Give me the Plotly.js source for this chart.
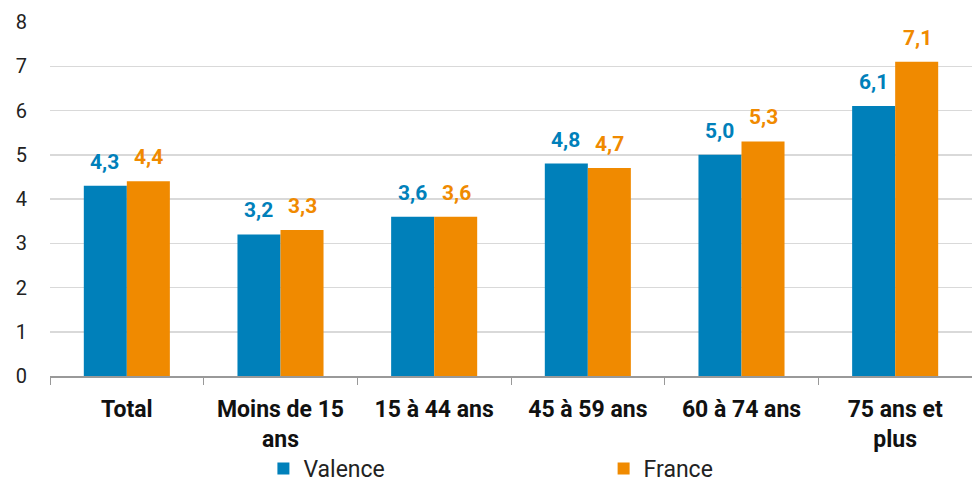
<!DOCTYPE html>
<html><head><meta charset="utf-8">
<script src="https://cdn.plot.ly/plotly-3.0.1.min.js"></script>
<style>body{margin:0;background:#fff}#c{width:972px;height:482px}</style>
</head><body><div id="c"></div>
<script>
const categories = ["Total", "Moins de 15<br>ans", "15 à 44 ans", "45 à 59 ans", "60 à 74 ans", "75 ans et<br>plus"];
const valence = [4.3, 3.2, 3.6, 4.8, 5.0, 6.1];
const france = [4.4, 3.3, 3.6, 4.7, 5.3, 7.1];
const seriesNames = ["Valence", "France"];
const colors = ["#0080ba", "#f08a00"];
const yTicks = [0, 1, 2, 3, 4, 5, 6, 7, 8];

const fmt = v => v.toFixed(1).replace(".", ",");
const series = [valence, france];
const traces = series.map((vals, i) => ({
  type: "bar", name: seriesNames[i], x: categories, y: vals,
  marker: {color: colors[i]}, hoverinfo: "skip",
  legend: i === 0 ? "legend" : "legend2"
}));
const annotations = [];
series.forEach((vals, i) => {
  vals.forEach((v, j) => {
    annotations.push({
      x: categories[j], y: v, xref: "x", yref: "y",
      text: fmt(v), showarrow: false, yanchor: "bottom",
      xshift: i === 0 ? -22 : 22, yshift: 10,
      font: {family: "Roboto", size: 21, color: colors[i], weight: "bold"}
    });
  });
});
const legFont = {family: "Roboto", size: 23, color: "#222"};
Plotly.newPlot("c", traces, {
  width: 972, height: 482,
  margin: {l: 50, r: 0, t: 22, b: 106},
  paper_bgcolor: "#fff", plot_bgcolor: "#fff",
  font: {family: "Roboto", size: 18, color: "#222"},
  barmode: "group", bargap: 0.44, bargroupgap: 0,
  showlegend: true,
  legend: {orientation: "h", xref: "container", yref: "container", x: 0.271, xanchor: "left",
    y: 0.028, yanchor: "middle", font: legFont, itemwidth: 30},
  legend2: {orientation: "h", xref: "container", yref: "container", x: 0.621, xanchor: "left",
    y: 0.028, yanchor: "middle", font: legFont, itemwidth: 30},
  xaxis: {type: "category", tickson: "boundaries", ticks: "outside", ticklen: 7, tickcolor: "#999",
    showline: true, linecolor: "#999", linewidth: 1.5, showgrid: false, automargin: false,
    ticklabelstandoff: 12,
    tickfont: {family: "Roboto", size: 23, color: "#111", weight: "bold"}},
  yaxis: {range: [0, 8], tickvals: yTicks, showgrid: true, gridcolor: "#d9d9d9", gridwidth: 1.5,
    zeroline: false, showline: false, ticklabelstandoff: 22, automargin: false,
    tickfont: {family: "Roboto", size: 20, color: "#222"}},
  annotations: annotations
}, {staticPlot: true});
</script></body></html>
